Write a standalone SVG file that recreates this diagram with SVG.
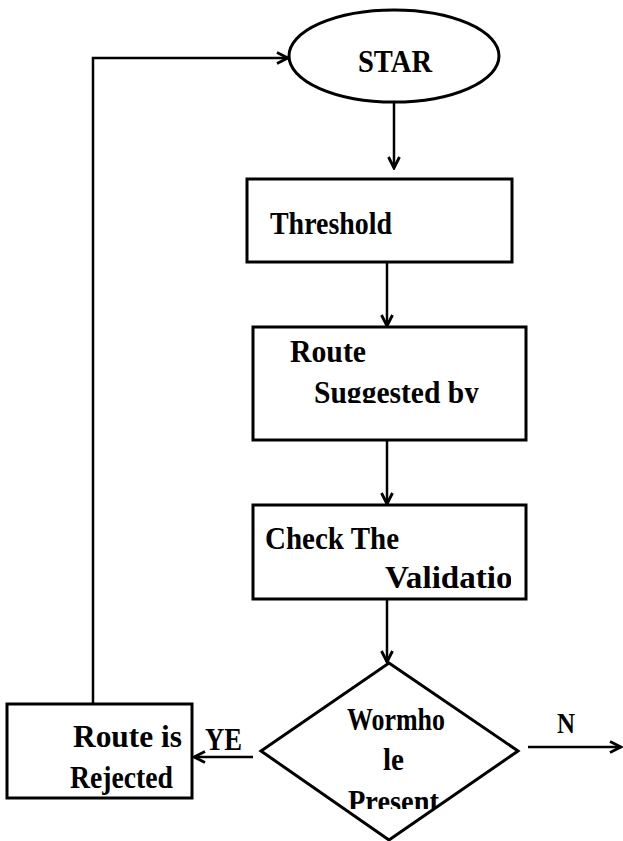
<svg xmlns="http://www.w3.org/2000/svg" width="623" height="841" viewBox="0 0 623 841">
<style>
.shape{fill:#fff;stroke:#000;stroke-width:3}
.conn{fill:none;stroke:#000;stroke-width:2.5}
.t{font-family:"Liberation Serif","Times New Roman",serif;font-weight:bold;font-size:32px;fill:#000}
</style>
<defs>
<marker id="arr" viewBox="0 0 14 14" refX="12.5" refY="7" markerWidth="14" markerHeight="14" markerUnits="userSpaceOnUse" orient="auto">
<path d="M1.5,1.5 L12.5,7 L1.5,12.5" fill="none" stroke="#000" stroke-width="2.8"/>
</marker>
<clipPath id="c1"><rect x="250" y="330" width="270" height="73"/></clipPath>
<clipPath id="c2"><rect x="250" y="505" width="261" height="95"/></clipPath>
<clipPath id="c3"><rect x="300" y="680" width="180" height="129"/></clipPath>
</defs>
<rect width="623" height="841" fill="#fff"/>
<g id="connectors">
<line class="conn" x1="394" y1="102" x2="394" y2="168" marker-end="url(#arr)"/>
<line class="conn" x1="387" y1="262" x2="387" y2="326" marker-end="url(#arr)"/>
<line class="conn" x1="387" y1="440" x2="387" y2="504" marker-end="url(#arr)"/>
<line class="conn" x1="387" y1="599" x2="387" y2="662" marker-end="url(#arr)"/>
<line class="conn" x1="253" y1="757" x2="194" y2="757" marker-end="url(#arr)"/>
<line class="conn" x1="528" y1="747" x2="621" y2="747" marker-end="url(#arr)"/>
<polyline class="conn" points="93,704 93,58 288,58" marker-end="url(#arr)"/>
<text class="t" x="205" y="750" textLength="37" lengthAdjust="spacingAndGlyphs">YE</text>
<text class="t" x="557" y="733" textLength="18" lengthAdjust="spacingAndGlyphs" style="font-size:29px">N</text>
</g>
<g id="start">
<ellipse class="shape" cx="394" cy="56" rx="105" ry="46"/>
<text class="t" x="358" y="72" textLength="74" lengthAdjust="spacingAndGlyphs">STAR</text>
</g>
<g id="threshold">
<rect class="shape" x="247" y="179" width="265" height="83"/>
<text class="t" x="270" y="234" textLength="122" lengthAdjust="spacingAndGlyphs">Threshold</text>
</g>
<g id="route">
<rect class="shape" x="253" y="327" width="273" height="113"/>
<text class="t" x="290" y="362" textLength="76" lengthAdjust="spacingAndGlyphs">Route</text>
<text class="t" x="314" y="403" textLength="165" lengthAdjust="spacingAndGlyphs" clip-path="url(#c1)">Suggested by</text>
</g>
<g id="check">
<rect class="shape" x="253" y="505" width="273" height="94"/>
<text class="t" x="265" y="549" textLength="134" lengthAdjust="spacingAndGlyphs">Check The</text>
<text class="t" x="385" y="588" textLength="146" lengthAdjust="spacingAndGlyphs" clip-path="url(#c2)">Validation</text>
</g>
<g id="decision">
<polygon class="shape" points="389,663 518,751 389,840 261,751"/>
<text class="t" x="347" y="730" textLength="98" lengthAdjust="spacingAndGlyphs">Wormho</text>
<text class="t" x="383" y="770" textLength="21" lengthAdjust="spacingAndGlyphs">le</text>
<text class="t" x="348" y="812" textLength="91" lengthAdjust="spacingAndGlyphs" clip-path="url(#c3)">Present</text>
</g>
<g id="rejected">
<rect class="shape" x="7" y="704" width="185" height="94"/>
<text class="t" x="73" y="747" textLength="109" lengthAdjust="spacingAndGlyphs">Route is</text>
<text class="t" x="70" y="788" textLength="103" lengthAdjust="spacingAndGlyphs">Rejected</text>
</g>
</svg>
